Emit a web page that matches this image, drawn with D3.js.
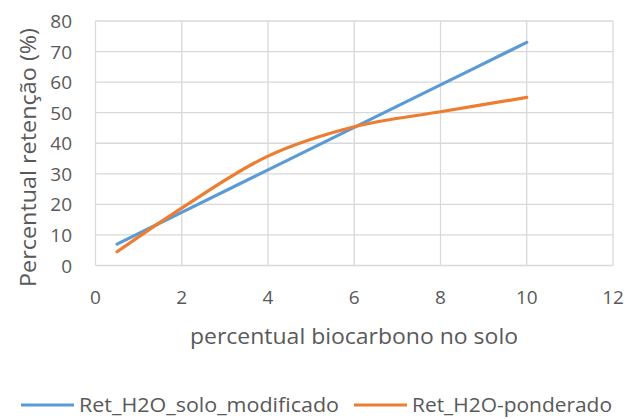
<!DOCTYPE html>
<html>
<head>
<meta charset="utf-8">
<script src="https://cdn.jsdelivr.net/npm/d3@7"></script>
<style>
  body { margin: 0; background: #fff; }
  text { font-family: "Open Sans", "Noto Sans", sans-serif; fill: #595959; }
</style>
</head>
<body>
<div id="chart"></div>
<script>
// values
var xValues = [0.5, 2, 4, 6, 8, 10];
var soloModificado = [7, 17.4, 31.3, 45.2, 59.1, 73];
var ponderado = [4.5, 18.8, 35.8, 45.4, 50.3, 55];
var seriesNames = ["Ret_H2O_solo_modificado", "Ret_H2O-ponderado"];
var seriesColors = ["#5B9BD5", "#ED7D31"];
var xTicks = [0, 2, 4, 6, 8, 10, 12];
var yTicks = [0, 10, 20, 30, 40, 50, 60, 70, 80];

var width = 628, height = 419;
var plotLeft = 95.5, plotRight = 613, plotTop = 21, plotBottom = 265.5;

var svg = d3.select("#chart").append("svg")
    .attr("width", width)
    .attr("height", height);

var x = d3.scaleLinear().domain([0, 12]).range([plotLeft, plotRight]);
var y = d3.scaleLinear().domain([0, 80]).range([plotBottom, plotTop]);

// gridlines
svg.append("g")
  .selectAll("line")
  .data(xTicks)
  .enter().append("line")
    .attr("x1", function(d) { return x(d); })
    .attr("x2", function(d) { return x(d); })
    .attr("y1", plotTop)
    .attr("y2", plotBottom)
    .attr("stroke", "#D9D9D9")
    .attr("stroke-width", 1.3);

svg.append("g")
  .selectAll("line")
  .data(yTicks)
  .enter().append("line")
    .attr("x1", plotLeft)
    .attr("x2", plotRight)
    .attr("y1", function(d) { return y(d); })
    .attr("y2", function(d) { return y(d); })
    .attr("stroke", "#D9D9D9")
    .attr("stroke-width", 1.3);

// tick labels
svg.append("g")
  .selectAll("text")
  .data(xTicks)
  .enter().append("text")
    .attr("x", function(d) { return x(d); })
    .attr("y", 304)
    .attr("text-anchor", "middle")
    .style("font-size", "19px")
    .text(function(d) { return d; });

svg.append("g")
  .selectAll("text")
  .data(yTicks)
  .enter().append("text")
    .attr("x", 72)
    .attr("y", function(d) { return y(d) + 7; })
    .attr("text-anchor", "end")
    .style("font-size", "19px")
    .text(function(d) { return d; });

// axis titles
svg.append("text")
  .attr("x", 190)
  .attr("y", 344)
  .attr("textLength", 328)
  .attr("lengthAdjust", "spacingAndGlyphs")
  .style("font-size", "21px")
  .text("percentual biocarbono no solo");

svg.append("text")
  .attr("transform", "translate(36,287) rotate(-90)")
  .attr("textLength", 259)
  .attr("lengthAdjust", "spacingAndGlyphs")
  .style("font-size", "21px")
  .text("Percentual retenção (%)");

// lines
var line = d3.line()
  .x(function(d) { return x(d[0]); })
  .y(function(d) { return y(d[1]); })
  .curve(d3.curveCatmullRom.alpha(0.5));

var series = [soloModificado, ponderado];
series.forEach(function(vals, i) {
  svg.append("path")
    .datum(xValues.map(function(xv, j) { return [xv, vals[j]]; }))
    .attr("fill", "none")
    .attr("stroke", seriesColors[i])
    .attr("stroke-width", 3.2)
    .attr("stroke-linecap", "round")
    .attr("d", line);
});

// legend
var legendX = [21, 354];
var legendTextLen = [260, 200];
seriesNames.forEach(function(name, i) {
  svg.append("line")
    .attr("x1", legendX[i])
    .attr("x2", legendX[i] + 53)
    .attr("y1", 405)
    .attr("y2", 405)
    .attr("stroke", seriesColors[i])
    .attr("stroke-width", 3.2);
  svg.append("text")
    .attr("x", legendX[i] + 58)
    .attr("y", 412)
    .attr("textLength", legendTextLen[i])
    .attr("lengthAdjust", "spacingAndGlyphs")
    .style("font-size", "20px")
    .text(name);
});
</script>
</body>
</html>
